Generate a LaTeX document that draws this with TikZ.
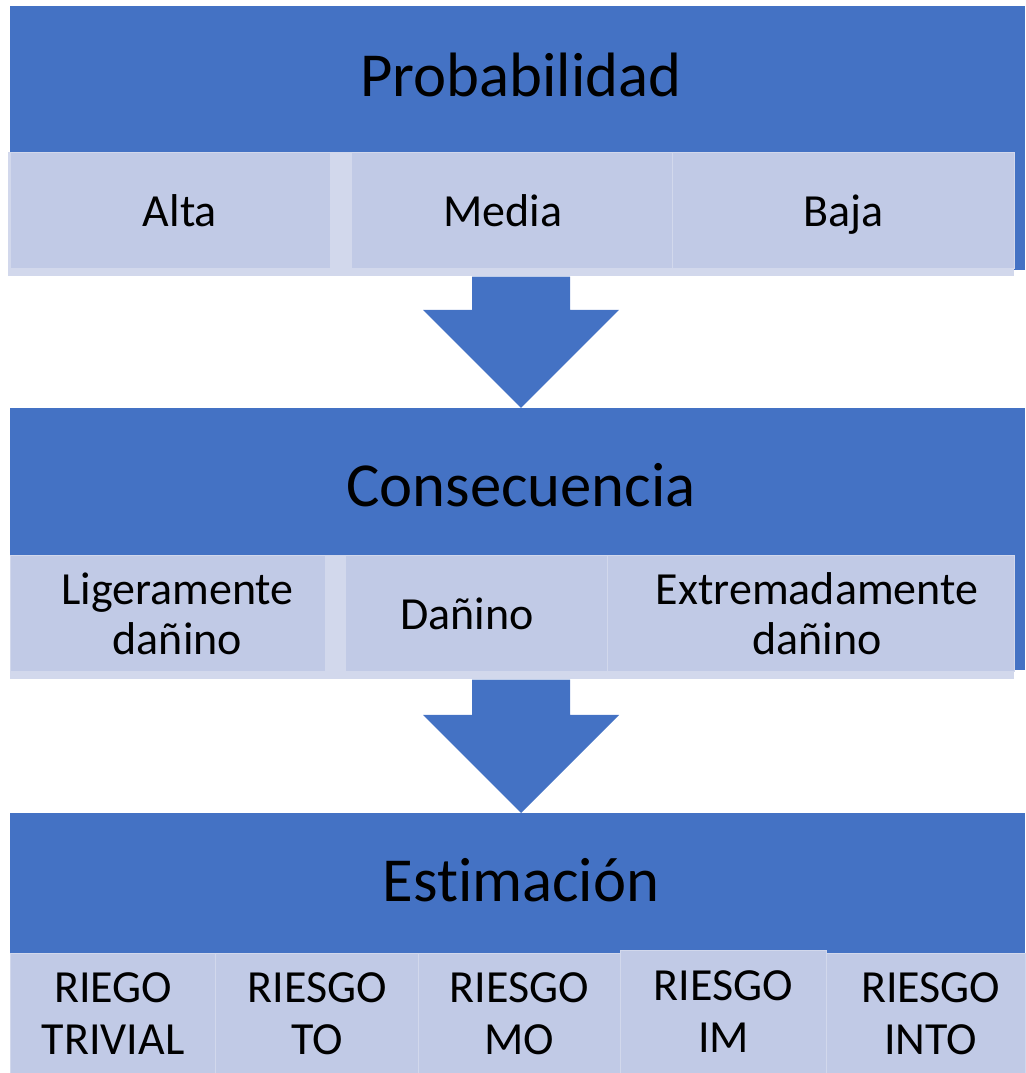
\documentclass[tikz,border=0pt]{standalone}
\usepackage{fontspec}
\setmainfont{Carlito}[Ligatures=NoCommon]
\usetikzlibrary{positioning,calc}

\definecolor{bandblue}{HTML}{4472C4}
\definecolor{boxfill}{HTML}{C1CAE6}
\definecolor{boxedge}{HTML}{D2D8EC}

% block arrow pointing down: #1 start of the shaft, #2 tip
\newcommand{\flecha}[2]{%
  \fill[bandblue] ($(#1)+(-49,0)$) -- ($(#1)+(49,0)$) -- ($(#2)+(49,98)$) -- ($(#2)+(98,98)$)
    -- (#2) -- ($(#2)+(-98,98)$) -- ($(#2)+(-49,98)$) -- cycle;}

\begin{document}
\begin{tikzpicture}[x=0.75pt, y=0.75pt,
    band/.style={fill=bandblue, inner sep=0pt, anchor=north west, minimum width=761.25pt},
    strip/.style={fill=boxedge, inner sep=0pt, anchor=north west, minimum height=93pt},
    cell/.style={fill=boxfill, draw=boxedge, line width=0.8pt, inner sep=0pt, anchor=north west,
      align=center, font=\fontsize{34.5}{37.5}\selectfont},
    head/.style={inner sep=0pt, font=\fontsize{47}{56}\selectfont}]
    \useasboundingbox (0,0) rectangle (1025,1073);

    % Probabilidad
    \node[band, minimum height=198pt] (bandP) at (10,1067) {};
    \node[head] (probT) at (521,998) {Probabilidad};
    \node[strip, minimum width=754.5pt] (strip1) at (8,921) {};
    \node[cell, minimum width=240pt, minimum height=87pt] (alta) at (10,921) {\hspace*{14pt}Alta};
    \node[cell, minimum width=240.75pt, minimum height=87pt] (media) at (351,921) {Media\hspace*{14pt}};
    \node[cell, minimum width=256.5pt, minimum height=87pt, text depth=0pt] (baja) at (672,921) {Baja};

    % Consecuencia
    \node[band, minimum height=196.5pt] (bandC) at (10,665) {};
    \node[head] (consT) at (521,588) {Consecuencia};
    \node[strip, minimum width=753pt] (strip2) at (10,518) {};
    \node[cell, minimum width=236.25pt, minimum height=87pt] (ligero) at (10,518) {\hspace*{14pt}Ligeramente\\\hspace*{14pt}dañino};
    \node[cell, minimum width=196.5pt, minimum height=87pt] (danino) at (345,518) {Dañino\hspace*{14pt}};
    \node[cell, minimum width=305.25pt, minimum height=87pt] (extremo) at (607,518) {\hspace*{9pt}Extremadamente\\\hspace*{9pt}dañino};

    % Estimacion
    \node[band, minimum height=108.75pt] (bandE) at (10,260) {};
    \node[head] (estT) at (521,193) {Estimación};
    \begin{scope}[cell/.append style={font=\fontsize{34.5}{39}\selectfont}]
    \node[cell, minimum width=153.75pt, minimum height=90pt] (trivial) at (10,120) {RIEGO\\TRIVIAL};
    \node[cell, minimum width=152.25pt, minimum height=90pt] (tolerable) at (215,120) {RIESGO\\TO};
    \node[cell, minimum width=151.5pt, minimum height=90pt] (moderado) at (418,120) {RIESGO\\MO};
    \node[cell, minimum width=154.5pt, minimum height=92.25pt] (importante) at (620,123) {RIESGO\\IM};
    \node[cell, minimum width=149.25pt, minimum height=90pt] (intolerable) at (826,120) {\hspace*{7pt}RIESGO\\\hspace*{7pt}INTO};
    \end{scope}

    % arrows between the stages
    \coordinate (a1s) at (probT |- strip1.south);
    \coordinate (a1e) at (probT |- bandC.north);
    \flecha{a1s}{a1e}
    \coordinate (a2s) at (consT |- strip2.south);
    \coordinate (a2e) at (consT |- bandE.north);
    \flecha{a2s}{a2e}
\end{tikzpicture}
\end{document}
